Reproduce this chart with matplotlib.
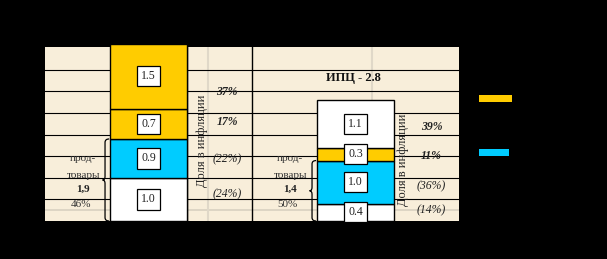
import matplotlib
matplotlib.use("Agg")
import matplotlib.pyplot as plt
from matplotlib.patches import Rectangle, PathPatch
from matplotlib.path import Path

plt.rcParams['font.family'] = ['Liberation Serif', 'DejaVu Serif']

# данные
bars = [0, 1]
seg_values = [[1.0, 0.9, 0.7, 1.5],   # было
              [0.4, 1.0, 0.3, 1.1]]   # ИПЦ - 2.8
seg_colors = [['white', '#00CCFF', '#FFCC00', '#FFCC00'],
              ['white', '#00CCFF', '#FFCC00', 'white']]
food_totals = ['1,9', '1,4']
food_share = ['46%', '50%']
food_height = [1.9, 1.4]
share_left = ['(24%)', '(22%)', '17%', '37%']
share_right = ['(14%)', '(36%)', '11%', '39%']
cpi_label = 'ИПЦ - 2.8'

W, H = 607, 259
fig = plt.figure(figsize=(W / 100, H / 100), dpi=100, facecolor='black')
ax = fig.add_axes([45 / W, (H - 221) / H, (459 - 45) / W, (221 - 47) / H])
ax.set_facecolor('#F8EEDA')
ax.set_xlim(-0.5, 1.5)
ax.set_ylim(0, 4.03)
for s in ax.spines.values():
    s.set_visible(False)
ax.set_xticks([])
ax.set_yticks([])

# сетка
for yy in [0.5, 1.0, 1.5, 2.0, 2.5, 3.0, 3.5]:
    ax.axhline(yy, color='black', lw=0.8, zorder=1)
ax.axhline(0.25, color='#d8d0c0', lw=1.2, zorder=0.5)
for xx in [0.287, 1.079]:
    ax.axvline(xx, color='#e0d8c8', lw=1.5, zorder=0.5)
ax.axvline(0.5, color='black', lw=1, zorder=1)
ax.axvline(0.186, color='black', lw=1, zorder=1)

# столбцы
width = 0.372
for i, x in enumerate(bars):
    bottom = 0
    for v, c in zip(seg_values[i], seg_colors[i]):
        ax.bar(x, v, width, bottom=bottom, color=c, edgecolor='black',
               linewidth=1, zorder=3, clip_on=False)
        ax.text(x, bottom + v / 2, f'{v:.1f}', ha='center', va='center',
                fontsize=8.5, zorder=5, color='#222222',
                bbox=dict(boxstyle='square,pad=0.35', fc='white', ec='black', lw=0.9))
        bottom += v


def brace(x, y0, y1, w):
    m = (y0 + y1) / 2
    verts = [(x, y1), (x - w, y1), (x - w, y1 - 0.08),
             (x - w, m + 0.08), (x - w, m), (x - w * 1.6, m),
             (x - w, m), (x - w, m - 0.08),
             (x - w, y0 + 0.08), (x - w, y0), (x, y0)]
    codes = [Path.MOVETO, Path.CURVE3, Path.CURVE3, Path.LINETO,
             Path.CURVE3, Path.CURVE3, Path.CURVE3, Path.CURVE3,
             Path.LINETO, Path.CURVE3, Path.CURVE3]
    ax.add_patch(PathPatch(Path(verts, codes), fc='none', ec='black', lw=0.9,
                           zorder=4, clip_on=False))


brace(-0.19, 0.0, food_height[0], 0.02)
brace(0.81, 0.0, food_height[1], 0.02)

# подписи продовольственных товаров
for xc, tot, sh in zip([-0.315, 0.685], food_totals, food_share):
    ax.text(xc, 1.44, 'прод-', ha='center', va='center', fontsize=8, color='#333333')
    ax.text(xc, 1.06, 'товары', ha='center', va='center', fontsize=8, color='#333333')
    ax.text(xc, 0.74, tot, ha='center', va='center', fontsize=8, weight='bold', color='#222222')
    ax.text(xc - 0.012, 0.39, sh, ha='center', va='center', fontsize=8, color='#333333')

# доли в инфляции
ax.text(0.258, 1.85, 'Доля в инфляции', rotation=90, ha='center', va='center',
        fontsize=9, color='#222222')
ax.text(1.229, 1.41, 'Доля в инфляции', rotation=90, ha='center', va='center',
        fontsize=9, color='#222222')
for lab, yy in zip(share_left, [0.63, 1.44, 2.29, 2.99]):
    bold = 'bold' if '(' not in lab else 'normal'
    ax.text(0.38, yy, lab, ha='center', va='center', fontsize=8.5,
            style='italic', weight=bold, color='#222222')
for lab, yy in zip(share_right, [0.25, 0.81, 1.50, 2.18]):
    bold = 'bold' if '(' not in lab else 'normal'
    ax.text(1.367, yy, lab, ha='center', va='center', fontsize=8.5,
            style='italic', weight=bold, color='#222222')

ax.text(0.988, 3.31, cpi_label, ha='center', va='center', fontsize=9,
        weight='bold', color='#111111')

# легенда
fig.patches.append(Rectangle((479 / W, 1 - 102 / H), 33 / W, 7 / H,
                             transform=fig.transFigure, fc='#FFCC00', ec='none'))
fig.patches.append(Rectangle((479 / W, 1 - 156 / H), 30 / W, 7 / H,
                             transform=fig.transFigure, fc='#00CCFF', ec='none'))

plt.savefig('out.png', dpi=100, facecolor='black')
